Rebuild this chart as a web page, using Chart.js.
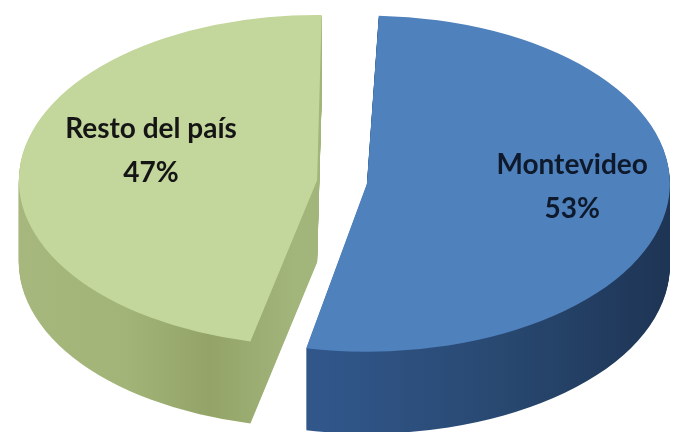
<!DOCTYPE html>
<html><head><meta charset="utf-8">
<script src="https://cdn.jsdelivr.net/npm/chart.js@4.4.1/dist/chart.umd.min.js"></script>
<style>html,body{margin:0;padding:0;background:#fff}canvas{display:block}</style>
</head><body>
<canvas id="c" width="675" height="432"></canvas>
<script>
// ---- data ----
const categories = ['Montevideo', 'Resto del país'];
const shares = [53, 47];

// ---- styles / layout (kept apart from the data) ----
const topColors = ['#4F81BD', '#C3D69B'];
const sideStops = [
  [[300, '#30568A'], [480, '#284870'], [672, '#1C3150']],
  [[15, '#A8B87F'], [150, '#A2B477'], [235, '#94A469'], [320, '#A2B57A']]
];
const labelColors = ['#0E1A2B', '#151515'];
const VIEW = { cx: 342, cy: 182, rx: 303, ry: 168, depth: 82 };
const SLICE_OFFSET = 66;
const LABEL_F = [0.765, 0.635];
const LABEL_DY = [-10, -18];
const LINE_GAP = 44;
const FONT = 'bold 28px Lato, "Open Sans", sans-serif';

const pie3d = {
  id: 'pie3d',
  beforeDatasetsDraw(chart) {
    const ctx = chart.ctx;
    const arcs = chart.getDatasetMeta(0).data;
    const a0 = arcs[0];
    const k = VIEW.rx / (a0.outerRadius + SLICE_OFFSET / 4);
    const s = VIEW.ry / VIEW.rx;
    ctx.save();
    ctx.translate(VIEW.cx, VIEW.cy);
    ctx.scale(k, k * s);
    ctx.translate(-a0.x, -a0.y);
    const toChartX = sx => a0.x + (sx - VIEW.cx) / k;
    const fills = sideStops.map(stops => {
      const g = ctx.createLinearGradient(toChartX(stops[0][0]), 0, toChartX(stops[stops.length - 1][0]), 0);
      const span = stops[stops.length - 1][0] - stops[0][0];
      stops.forEach(([x, c]) => g.addColorStop((x - stops[0][0]) / span, c));
      return g;
    });
    const stepY = 1 / (k * s);
    for (let d = VIEW.depth; d >= 1; d--) {
      arcs.forEach((arc, i) => {
        ctx.save();
        ctx.translate(0, d * stepY);
        const o = arc.options;
        arc.options = Object.assign({}, o, { backgroundColor: fills[i], borderWidth: 0 });
        arc.draw(ctx);
        arc.options = o;
        ctx.restore();
      });
    }
  },
  afterDatasetsDraw(chart) {
    const ctx = chart.ctx;
    ctx.restore();
    const arcs = chart.getDatasetMeta(0).data;
    ctx.save();
    ctx.font = FONT;
    ctx.textAlign = 'center';
    ctx.textBaseline = 'middle';
    arcs.forEach((arc, i) => {
      const mid = (arc.startAngle + arc.endAngle) / 2;
      const px = VIEW.cx + Math.cos(mid) * VIEW.rx * LABEL_F[i];
      const py = VIEW.cy + Math.sin(mid) * VIEW.ry * LABEL_F[i] + LABEL_DY[i];
      ctx.fillStyle = labelColors[i];
      ctx.fillText(categories[i], px, py - LINE_GAP / 2);
      ctx.fillText(shares[i] + '%', px, py + LINE_GAP / 2);
    });
    ctx.restore();
  }
};

new Chart(document.getElementById('c'), {
  type: 'pie',
  data: {
    labels: categories,
    datasets: [{
      data: shares,
      backgroundColor: topColors,
      borderWidth: 0,
      offset: SLICE_OFFSET,
      clip: false
    }]
  },
  options: {
    responsive: false,
    animation: false,
    events: [],
    rotation: 1.5,
    layout: { padding: 0 },
    plugins: { legend: { display: false }, tooltip: { enabled: false } }
  },
  plugins: [pie3d]
});
</script>
</body></html>
